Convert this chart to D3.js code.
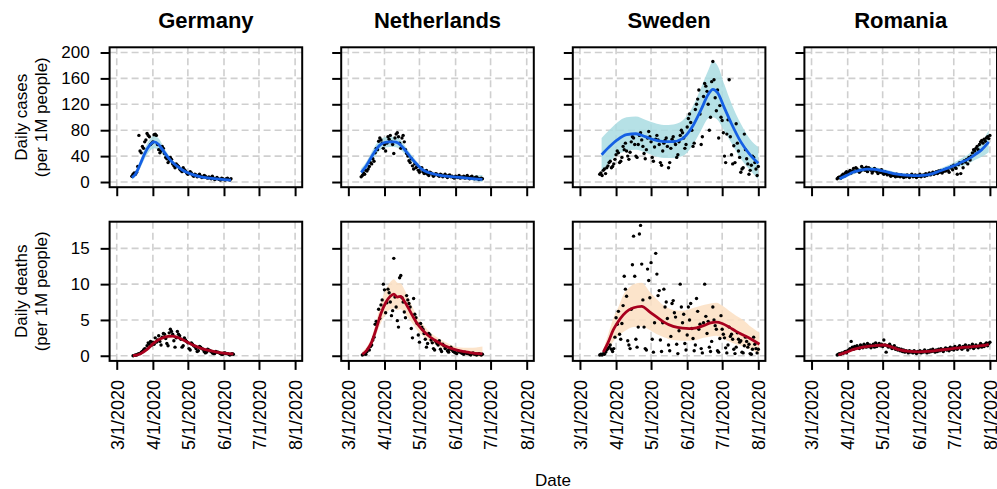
<!DOCTYPE html>
<html><head><meta charset="utf-8">
<script src="https://cdn.jsdelivr.net/npm/d3@7"></script>
<style>body{margin:0;background:#fff}svg{display:block;font-family:"Liberation Sans",Arial,Helvetica,sans-serif}</style>
</head><body><svg id="c" width="997" height="489"></svg>
<script>
// ---------------- data ----------------
const countries = ["Germany", "Netherlands", "Sweden", "Romania"];
const monthTicks = ["2020-03-01", "2020-04-01", "2020-05-01", "2020-06-01", "2020-07-01", "2020-08-01"];
const casesTicks = [0, 40, 80, 120, 160, 200];
const deathsTicks = [0, 5, 10, 15];
const rowTitles = [["Daily cases", "(per 1M people)"], ["Daily deaths", "(per 1M people)"]];
const xTitle = "Date";

// daily values per 1M people; *Start = first day, counted in days after 3/1/2020
const germanyCasesStart = 13;
const germanyCases = [9,12,14,12,15,24,72,48,45,55,52,62,65,75,72,70,58,60,62,73,74,72,58,50,45,48,55,52,44,38,36,30,33,38,35,28,25,22,28,26,24,20,18,16,22,19,17,14,12,13,16,14,11,9,12,11,8,10,12,9,7,8,10,9,7,6,8,7,5,9,6,4,5,7,5,4,3,6,5,4,3,5,6,4,3,5];
const germanyDeathsStart = 14;
const germanyDeaths = [0,0.05,0.1,0.1,0.2,0.3,0.3,0.5,0.6,0.8,1.0,0.9,1.4,1.8,1.6,2.0,1.5,1.9,1.6,2.5,1.9,2.2,2.8,2.0,1.5,2.6,3.1,3.0,2.4,1.7,1.4,3.2,3.7,3.4,3.0,2.1,1.2,2.5,3.4,3.0,2.8,2.3,1.2,1.4,2.5,2.2,2.0,1.8,1.0,0.8,1.8,1.6,1.4,1.3,1.0,0.6,0.7,1.3,1.2,1.0,0.9,0.6,0.4,0.5,0.9,0.8,0.7,0.6,0.4,0.3,0.3,0.6,0.5,0.5,0.4,0.3,0.2,0.2,0.4,0.4,0.3,0.3,0.2,0.1,0.2,0.3,0.2];
const netherlandsCasesStart = 11;
const netherlandsCases = [8,10,14,12,18,17,20,24,30,28,36,32,45,52,50,63,68,65,60,52,58,48,60,70,66,72,62,58,44,68,74,76,70,60,52,68,72,62,50,44,40,33,30,36,25,20,28,22,24,18,15,20,22,16,13,14,18,12,10,15,14,12,9,11,13,12,10,9,12,11,8,10,12,9,7,10,11,8,9,7,6,9,8,7,10,6,8,7,9,6,8,10,7,5,8,9,6,5,7,8,6,4,5,6,5];
const netherlandsDeathsStart = 12;
const netherlandsDeaths = [0.1,0.2,0.3,0.2,0.6,0.9,0.8,1.3,1.5,2.2,2.6,4.4,4.8,4.6,6.5,5.2,7.1,7.8,10.0,9.2,6.0,7.4,9.3,8.8,7.5,5.6,6.3,13.6,8.2,6.8,4.9,4.0,10.9,11.2,8.1,7.5,6.1,5.3,8.4,7.8,7.3,6.8,3.8,2.5,8.0,5.8,5.3,4.5,2.9,1.9,4.5,4.0,3.7,3.1,2.3,1.2,1.7,3.1,2.9,2.2,1.8,1.0,0.8,2.0,1.7,1.5,2.1,0.9,0.6,1.6,1.4,1.0,1.2,0.7,0.5,0.9,1.2,0.8,0.6,0.5,0.4,0.3,0.7,0.6,0.5,0.4,0.3,0.2,0.5,0.4,0.3,0.4,0.2,0.1,0.3,0.4,0.2,0.3,0.1,0.2,0.3,0.2,0.1,0.2];
const swedenCasesStart = 17;
const swedenCases = [12,14,10,18,20,13,22,25,30,32,22,24,28,35,42,48,45,30,32,38,55,50,60,48,40,35,46,62,70,68,58,40,38,58,72,76,65,55,44,36,50,68,78,70,62,38,32,54,66,72,65,58,30,26,48,60,64,68,55,22,30,52,66,70,62,58,38,42,62,72,80,76,68,52,58,85,98,105,92,80,55,60,112,120,128,142,105,58,70,132,152,148,140,120,80,100,155,186,158,130,110,142,68,118,100,95,76,40,30,74,96,158,70,42,28,56,30,90,60,48,38,15,20,22,74,50,36,28,12,18,26,40,38,30,20,10,24];
const swedenDeathsStart = 17;
const swedenDeaths = [0.1,0.2,0.1,0.3,0.2,0.5,0.8,1.0,1.2,1.5,0.9,0.6,1.0,2.6,5.3,4.4,6.2,3.0,2.3,4.5,7.0,11.1,9.3,8.3,2.1,1.5,1.0,6.5,12.7,16.7,11.1,2.3,1.2,4.0,17.0,18.2,12.8,7.8,4.0,1.0,0.8,12.1,10.5,8.1,13.0,2.3,0.5,4.6,14.3,11.4,8.4,9.1,2.2,0.6,4.6,9.3,6.8,7.5,5.2,1.5,0.7,2.7,7.3,7.7,6.0,5.4,1.6,0.3,3.5,10.0,6.8,4.6,5.8,1.7,0.8,2.9,6.8,5.0,7.3,3.8,2.4,0.7,1.5,8.0,6.2,3.7,4.4,1.0,0.4,4.6,10.0,5.5,3.1,4.8,1.2,0.6,2.0,6.8,5.0,4.2,3.7,0.7,0.5,2.4,5.6,3.7,3.0,2.5,1.1,0.4,1.5,4.0,2.7,3.0,2.3,0.9,0.3,1.2,3.2,2.3,1.9,2.1,0.5,0.4,1.4,2.6,2.0,1.2,1.6,0.3,0.2,0.9,2.6,1.6,1.0,0.4,0.9];
const romaniaCasesStart = 22;
const romaniaCases = [5,7,8,6,10,12,9,14,16,12,15,18,14,17,21,16,22,20,18,15,17,24,19,21,18,23,16,22,20,18,14,17,21,19,16,13,18,15,19,14,12,16,13,11,14,12,9,13,10,11,8,12,9,10,8,11,9,7,10,8,11,9,7,10,12,8,9,11,7,10,9,12,8,10,11,9,13,10,12,14,11,13,15,12,14,16,13,17,15,18,14,16,19,17,20,18,15,22,24,19,26,23,21,12,27,30,13,29,22,33,31,35,28,38,34,40,45,50,48,52,55,50,58,62,64,60,66,63,68,70,67,72];
const romaniaDeathsStart = 22;
const romaniaDeaths = [0.1,0.2,0.3,0.2,0.4,0.3,0.5,0.6,0.4,0.7,0.8,1.0,2.0,1.2,0.9,1.3,1.1,1.4,1.2,1.0,1.5,1.3,1.1,1.6,1.4,1.2,1.7,1.3,1.5,1.1,1.4,1.6,1.2,1.8,1.3,1.5,1.7,1.4,1.6,1.3,2.2,1.5,0.5,1.4,1.2,1.6,1.3,1.0,1.2,1.4,0.9,1.1,0.8,1.0,0.7,0.9,0.6,0.8,0.5,0.7,0.6,0.4,0.7,0.5,0.6,0.4,0.7,0.5,0.3,0.6,0.5,0.7,0.4,0.6,0.5,0.8,0.6,0.4,0.7,0.5,0.8,0.6,0.9,0.7,0.5,0.8,0.6,0.9,0.7,1.0,0.8,0.6,0.9,1.1,0.8,1.0,0.7,1.2,0.9,1.1,0.8,1.3,1.0,0.9,1.2,1.4,1.1,0.9,1.3,1.1,1.5,1.2,0.8,1.4,1.1,1.3,1.6,1.0,1.2,1.5,1.3,1.1,1.4,1.7,1.2,1.5,1.3,1.6,1.8,1.4,1.7,1.9];

// smoothed fits with confidence band (knot days, fit, lower, upper)
const germanyCasesFitDays = [13,16,20,24,28,32,36,40,44,48,52,56,60,66,72,80,88,98];
const germanyCasesFit = [7,12,27,44,56,62,58,48,38,30,24,19,15,11,8,6,4.5,3];
const germanyCasesLo = [4,8,21,36,47,52,49,41,33,26,21,16.5,13,9,6.5,4.5,3,1];
const germanyCasesHi = [10,16,33,52,65,72,67,55,43,34,27,21.5,17,13,9.5,7.5,6,5];
const germanyDeathsFitDays = [14,20,26,32,38,44,48,54,60,66,72,80,88,96,100];
const germanyDeathsFit = [0,0.25,0.9,1.8,2.4,2.7,2.75,2.45,1.95,1.45,1.05,0.7,0.45,0.3,0.25];
const germanyDeathsLo = [-0.1,0.1,0.65,1.5,2.1,2.4,2.45,2.2,1.7,1.25,0.85,0.5,0.28,0.12,0.05];
const germanyDeathsHi = [0.15,0.45,1.15,2.1,2.7,3.0,3.05,2.7,2.2,1.65,1.25,0.9,0.62,0.48,0.45];
const netherlandsCasesFitDays = [11,15,19,23,27,31,35,39,43,47,51,55,59,63,68,74,80,90,100,108,115];
const netherlandsCasesFit = [15,24,36,48,57,61,62,62,60,53,44,35,27,20,15,12,10,8,6.5,5,4];
const netherlandsCasesLo = [9,18,29,40,49,53,54,54,52,46,38,30,23,17,12.5,10,8,6,4.5,2,0];
const netherlandsCasesHi = [21,30,43,56,65,69,70,70,68,60,50,40,31,23,17.5,14,12,10,9,10,11];
const netherlandsDeathsFitDays = [12,16,20,24,28,32,36,39,42,45,48,51,55,59,63,68,74,80,87,94,104,115];
const netherlandsDeathsFit = [0.2,0.8,1.9,3.8,5.9,7.4,8.3,8.6,8.2,8.3,7.6,6.8,5.6,4.5,3.7,2.9,2.2,1.6,1.1,0.75,0.45,0.25];
const netherlandsDeathsLo = [0,0.4,1.3,3.0,4.6,5.8,6.5,6.6,6.4,6.5,6.0,5.4,4.5,3.6,2.9,2.2,1.6,1.1,0.6,0.3,0,-0.2];
const netherlandsDeathsHi = [0.6,1.3,2.6,4.8,7.4,9.2,10.3,10.7,10.2,10.1,9.3,8.3,6.8,5.5,4.6,3.6,2.8,2.2,1.6,1.2,1.1,1.3];
const swedenCasesFitDays = [18.6,25,32,40,48,56,64,72,80,88,96,104,110,114,118,124,130,138,146,153];
const swedenCasesFit = [42,54,65,73,74.5,70,65,62.5,62.5,67,84,112,135,143,138,114,90,62,42,29];
const swedenCasesLo = [16,30,42,48,50,46,40,37,37,40,55,80,98,100,96,78,60,36,18,4];
const swedenCasesHi = [68,80,92,100,101,96,91,88,89,95,114,146,172,186,180,150,121,90,66,54];
const swedenDeathsFitDays = [20,24,28.6,33,37.2,42,46,53,60,66,72,80,88,94,100,106,112,117,122,128,134,140,147,154];
const swedenDeathsFit = [0.5,1.8,3.6,4.8,5.7,6.4,6.7,6.9,6.1,5.4,4.7,4.1,3.85,3.8,3.9,4.2,4.6,4.7,4.5,4.0,3.4,2.9,2.3,1.6];
const swedenDeathsLo = [0,0.8,2.0,2.8,3.3,3.8,4.0,4.1,3.6,3.0,2.6,2.2,2.1,2.1,2.2,2.5,2.7,2.8,2.4,2.0,1.6,1.3,0.8,0.2];
const swedenDeathsHi = [0.9,2.9,5.2,6.8,8.5,9.5,10.0,10.2,8.9,7.9,7.0,6.4,6.3,6.5,6.8,7.1,7.3,7.4,7.0,6.3,5.6,5.0,4.0,3.2];
const romaniaCasesFitDays = [24,30,36,42,48,54,60,66,72,80,88,96,104,110,116,122,128,134,140,146,152];
const romaniaCasesFit = [5,10,15.5,18.5,20,19.5,17.5,15,12.5,10.5,10,10.3,13,17,21,25,30,35,42,50,62];
const romaniaCasesLo = [2,7,12,15,16.5,16,14.5,12,10,8,7.5,7.8,10,13.5,17,20,24,28,34,39,46];
const romaniaCasesHi = [8,13,19,22,23.5,23,20.5,18,15,13,12.5,12.8,16,20.5,25,30,36,42,51,62,80];
const romaniaDeathsFitDays = [23,30,36,42,50,57,62,68,75,84,92,100,108,116,124,132,140,146,152];
const romaniaDeathsFit = [0.1,0.5,0.9,1.15,1.35,1.45,1.5,1.25,0.85,0.6,0.55,0.62,0.75,0.9,1.05,1.2,1.3,1.4,1.6];
const romaniaDeathsLo = [0,0.3,0.7,0.9,1.1,1.2,1.25,1.0,0.65,0.42,0.38,0.45,0.56,0.7,0.85,0.98,1.05,1.12,1.25];
const romaniaDeathsHi = [0.3,0.8,1.2,1.4,1.6,1.7,1.75,1.5,1.05,0.8,0.72,0.8,0.94,1.1,1.25,1.42,1.55,1.7,1.95];

// ---------------- layout ----------------
const panelLeft0 = 109.6, panelStep = 231.6, panelW = 192.6;
const rowBox = [[47.3, 187.2], [221.7, 360.9]];
const rowDomain = [[-8, 208], [-0.72, 18.72]];
const caseColor = "#1560e4", caseBand = "#a9dce2";
const deathColor = "#a8001e", deathBand = "#fcdfc2";

const svg = d3.select("#c");
const day0 = new Date(2020, 2, 1);
const dayDate = d => d3.timeHour.offset(day0, d * 24);
const tickDates = monthTicks.map(s => d3.timeParse("%Y-%m-%d")(s));
const fmt = d3.timeFormat("%-m/%-d/%Y");

const table = [
  [germanyCasesStart, germanyCases, germanyCasesFitDays, germanyCasesFit, germanyCasesLo, germanyCasesHi],
  [netherlandsCasesStart, netherlandsCases, netherlandsCasesFitDays, netherlandsCasesFit, netherlandsCasesLo, netherlandsCasesHi],
  [swedenCasesStart, swedenCases, swedenCasesFitDays, swedenCasesFit, swedenCasesLo, swedenCasesHi],
  [romaniaCasesStart, romaniaCases, romaniaCasesFitDays, romaniaCasesFit, romaniaCasesLo, romaniaCasesHi],
  [germanyDeathsStart, germanyDeaths, germanyDeathsFitDays, germanyDeathsFit, germanyDeathsLo, germanyDeathsHi],
  [netherlandsDeathsStart, netherlandsDeaths, netherlandsDeathsFitDays, netherlandsDeathsFit, netherlandsDeathsLo, netherlandsDeathsHi],
  [swedenDeathsStart, swedenDeaths, swedenDeathsFitDays, swedenDeathsFit, swedenDeathsLo, swedenDeathsHi],
  [romaniaDeathsStart, romaniaDeaths, romaniaDeathsFitDays, romaniaDeathsFit, romaniaDeathsLo, romaniaDeathsHi]
];

table.forEach((p, idx) => {
  const row = Math.floor(idx / 4), col = idx % 4;
  const [start, pts, fd, fit, lo, hi] = p;
  const left = panelLeft0 + col * panelStep;
  const [top, bottom] = rowBox[row];
  const span = 153 * 0.04 * 24;
  const x = d3.scaleTime()
    .domain([d3.timeHour.offset(tickDates[0], -span), d3.timeHour.offset(tickDates[5], span)])
    .range([left, left + panelW]);
  const y = d3.scaleLinear().domain(rowDomain[row]).range([bottom, top]);
  const yt = row === 0 ? casesTicks : deathsTicks;
  const lineColor = row === 0 ? caseColor : deathColor;
  const bandColor = row === 0 ? caseBand : deathBand;

  const clipId = "clip" + idx;
  svg.append("clipPath").attr("id", clipId).append("rect")
    .attr("x", left).attr("y", top).attr("width", panelW).attr("height", bottom - top);

  const g = svg.append("g");
  // grid
  g.append("g").selectAll("line").data(tickDates).join("line")
    .attr("x1", d => x(d)).attr("x2", d => x(d)).attr("y1", top).attr("y2", bottom)
    .attr("stroke", "#cfcfcf").attr("stroke-width", 1.6).attr("stroke-dasharray", "7,4");
  g.append("g").selectAll("line").data(yt).join("line")
    .attr("y1", d => y(d)).attr("y2", d => y(d)).attr("x1", left).attr("x2", left + panelW)
    .attr("stroke", "#cfcfcf").attr("stroke-width", 1.6).attr("stroke-dasharray", "7,4");

  const inner = g.append("g").attr("clip-path", `url(#${clipId})`);
  const fitData = fd.map((d, i) => ({d: dayDate(d), f: fit[i], lo: lo[i], hi: hi[i]}));
  inner.append("path").datum(fitData)
    .attr("d", d3.area().x(d => x(d.d)).y0(d => y(d.lo)).y1(d => y(d.hi)).curve(d3.curveMonotoneX))
    .attr("fill", bandColor).attr("fill-opacity", 0.85);
  inner.append("g").selectAll("circle").data(pts).join("circle")
    .attr("cx", (v, i) => x(dayDate(start + i))).attr("cy", v => y(v)).attr("r", 1.7).attr("fill", "#000");
  inner.append("path").datum(fitData)
    .attr("d", d3.line().x(d => x(d.d)).y(d => y(d.f)).curve(d3.curveMonotoneX))
    .attr("fill", "none").attr("stroke", lineColor).attr("stroke-width", 2.8);

  // box
  g.append("rect").attr("x", left).attr("y", top).attr("width", panelW).attr("height", bottom - top)
    .attr("fill", "none").attr("stroke", "#000").attr("stroke-width", 2);

  // axes
  const ax = g.append("g").attr("transform", `translate(0,${bottom})`)
    .call(d3.axisBottom(x).tickValues(tickDates).tickSize(9).tickFormat(row === 1 ? fmt : ""));
  ax.select(".domain").remove();
  ax.selectAll("line").attr("stroke", "#000").attr("stroke-width", 2);
  ax.selectAll("text").attr("transform", "rotate(-90)").attr("x", -19).attr("y", 0)
    .attr("dy", "0.35em").attr("text-anchor", "end").attr("font-size", 18)
    .attr("font-family", "Liberation Sans, Arial, sans-serif").attr("fill", "#000");

  const ay = g.append("g").attr("transform", `translate(${left},0)`)
    .call(d3.axisLeft(y).tickValues(yt).tickSize(9).tickPadding(11).tickFormat(col === 0 ? d3.format("d") : ""));
  ay.select(".domain").remove();
  ay.selectAll("line").attr("stroke", "#000").attr("stroke-width", 2);
  ay.selectAll("text").attr("font-size", 17).attr("font-family", "Liberation Sans, Arial, sans-serif").attr("fill", "#000");

  if (row === 0) {
    svg.append("text").attr("x", left + panelW / 2).attr("y", 28).attr("text-anchor", "middle")
      .attr("font-size", 22).attr("font-weight", "bold").text(countries[col]);
  }
  if (col === 0) {
    const cy = (top + bottom) / 2;
    rowTitles[row].forEach((t, k) => {
      svg.append("text").attr("transform", `translate(${27 + k * 20},${cy}) rotate(-90)`)
        .attr("text-anchor", "middle").attr("font-size", 17).text(t);
    });
  }
});

svg.append("text").attr("x", 553).attr("y", 486).attr("text-anchor", "middle")
  .attr("font-size", 17).text(xTitle);
</script></body></html>
